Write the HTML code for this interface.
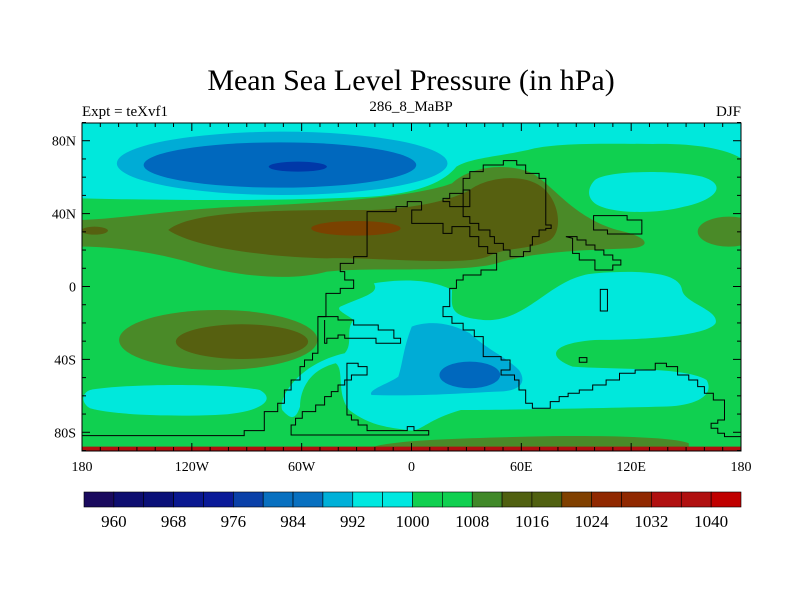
<!DOCTYPE html>
<html><head><meta charset="utf-8"><style>
html,body{margin:0;padding:0;background:#fff;}
svg{display:block;font-family:"Liberation Serif",serif;}
</style></head><body>
<svg width="800" height="600" viewBox="0 0 800 600">
<defs><clipPath id="fr"><rect x="82" y="123" width="659" height="328"/></clipPath></defs>
<text x="411" y="90" font-size="30" text-anchor="middle">Mean Sea Level Pressure (in hPa)</text>
<text x="82" y="116" font-size="15">Expt = teXvf1</text>
<text x="411" y="111" font-size="15" text-anchor="middle">286_8_MaBP</text>
<text x="741" y="116" font-size="15" text-anchor="end">DJF</text>
<g clip-path="url(#fr)">
<g transform="matrix(0.4468,0,0,0.3333,58.77,90)">
<rect x="52" y="97" width="1475" height="985" fill="#10d050"/>
<path fill="#00e8dc" d="M52,97 H1527 V205 C1490,175 1420,160 1330,162 C1200,160 1100,160 1050,180 C980,200 920,205 890,230 C860,280 800,310 700,320 C500,335 200,330 52,325 Z"/>
<path fill="#00e8dc" d="M1200,270 C1230,240 1380,240 1440,260 C1500,285 1470,330 1400,350 C1330,375 1230,370 1200,340 C1180,320 1185,290 1200,270 Z"/>
<ellipse cx="500" cy="220" rx="370" ry="95" fill="#00acd6"/>
<ellipse cx="495" cy="225" rx="305" ry="68" fill="#0068be"/>
<ellipse cx="535" cy="230" rx="65" ry="15" fill="#0038a8"/>
<path fill="#4a8a28" d="M52,390 C150,385 250,360 400,350 C600,340 800,320 880,280 C920,230 1000,215 1060,250 C1110,290 1150,380 1250,420 C1320,440 1330,470 1280,475 C1150,480 1050,490 980,520 C900,550 700,530 600,545 C520,575 400,560 300,520 C200,480 100,470 52,470 Z"/>
<ellipse cx="1500" cy="425" rx="70" ry="45" fill="#4a8a28"/>
<path fill="#566010" d="M245,420 C300,360 500,360 700,360 C800,355 880,330 920,300 C960,260 1040,250 1080,290 C1120,330 1130,420 1100,450 C1060,480 1000,470 960,500 C900,530 700,500 600,505 C450,500 300,470 245,420 Z"/>
<ellipse cx="80" cy="422" rx="30" ry="12" fill="#566010"/>
<ellipse cx="665" cy="415" rx="100" ry="22" fill="#7a4200"/>
<ellipse cx="357" cy="750" rx="222" ry="90" fill="#4a8a28"/>
<ellipse cx="410" cy="755" rx="148" ry="52" fill="#566010"/>
<path fill="#00e8dc" d="M705,580 C800,560 850,580 880,600 C880,650 870,680 950,690 C1050,700 1100,560 1200,550 C1300,540 1390,545 1395,600 C1400,640 1480,660 1470,700 C1450,740 1300,750 1200,750 C1100,760 1090,800 1150,830 C1250,840 1400,830 1450,870 C1470,920 1420,950 1350,950 C1200,955 1000,960 900,960 C820,990 810,1030 780,1020 C720,1010 690,1000 650,960 C620,910 640,840 620,820 C560,840 540,900 540,950 C530,990 520,990 500,960 C490,920 540,820 640,790 C660,760 640,720 660,690 C640,670 620,660 630,650 C680,620 720,610 705,580 Z"/>
<path fill="#00e8dc" d="M70,900 C150,880 380,880 450,900 C490,930 450,970 350,975 C250,980 120,975 70,955 C50,940 50,910 70,900 Z"/>
<path fill="#00acd6" d="M790,710 C830,690 880,700 920,730 C960,780 1000,800 1030,840 C1050,880 1030,905 980,905 C900,910 800,920 700,915 C690,900 740,880 760,860 C770,820 770,780 790,710 Z"/>
<ellipse cx="920" cy="855" rx="68" ry="40" fill="#0068be"/>
<path fill="#4a8a28" d="M700,1072 C750,1050 900,1045 1050,1040 C1200,1035 1380,1040 1410,1060 L1410,1072 Z"/>
<rect x="52" y="1070" width="1475" height="12" fill="#b01010"/>
<g fill="none" stroke="#000" stroke-width="1" vector-effect="non-scaling-stroke">
<path vector-effect="non-scaling-stroke" d="M812,335 H780 V350 H755 V365 H690 V500 H660 V520 H630 V545 H640 V570 H660 V595 H630 V610 H598 V680 H580 V790 H568 V810 H550 V830 H540 V870 H520 V900 H505 V940 H490 V965 H460 V1022 H415 V1037 H52"/>
<path vector-effect="non-scaling-stroke" d="M812,335 V360 H790 V400 H860 V430 H880 V410 H920 V440 H940 V470 H960 V490 H980 V540 H945 V555 H905 V570 H890 V595 H875 V650 H860 V680 H880 V700 H905 V720 H930 V740 H950 V800 H990 V810 H1010 V840 H990 V855 H1020 V870 H1030 V900 H1045 V940 H1060 V955 H1100 V935 H1120 V920 H1140 V910 H1165 V900 H1195 V885 H1225 V870 H1255 V850 H1290 V840 H1335 V820 H1360 V830 H1385 V855 H1410 V870 H1430 V890 H1445 V910 H1465 V930 H1490 V990 H1475 V1000 H1460 V1015 H1475 V1030 H1490 V1040 H1527"/>
<path vector-effect="non-scaling-stroke" d="M905,350 V265 H920 V245 H950 V225 H995 V212 H1025 V225 H1045 V250 H1075 V265 H1090 V405 H1102 V415 H1090 V420 H1075 V440 H1060 V465 H1055 V485 H1040 V500 H1010 V480 H995 V460 H975 V440 H965 V420 H940 V400 H920 V380 H905 Z"/>
<path vector-effect="non-scaling-stroke" d="M860,325 H875 V310 H905 V300 H920 V350 H875 V335 H860 Z"/>
<path vector-effect="non-scaling-stroke" d="M580,680 H625 V690 H660 V705 H715 V720 H750 V745 H765 V760 H710 V745 H640 V735 H625 V745 H600 V760 H595 V690"/>
<path vector-effect="non-scaling-stroke" d="M520,1035 H828 V1022 H795 V1010 H780 V1022 H690 V1005 H670 V990 H655 V975 H645 V820 H670 V830 H690 V855 H655 V870 H640 V885 H625 V905 H610 V920 H595 V945 H575 V965 H545 V985 H530 V1005 H520 Z"/>
<path vector-effect="non-scaling-stroke" d="M1135,440 H1160 V450 H1180 V465 H1200 V480 H1220 V495 H1240 V510 H1258 V525 H1240 V540 H1200 V510 H1165 V490 H1150 V445 Z"/>
<path vector-effect="non-scaling-stroke" d="M1197,377 H1272 V390 H1305 V432 H1228 V420 H1197 Z"/>
<rect vector-effect="non-scaling-stroke" x="1212" y="598" width="16" height="65"/>
<rect vector-effect="non-scaling-stroke" x="1165" y="803" width="17" height="14"/>
</g>
</g>
</g>
<rect x="82" y="123" width="659" height="328" fill="none" stroke="#000" stroke-width="1"/>
<g id="ticks" stroke="#000" stroke-width="1"></g>
<g id="labels" font-size="14"></g>
<g id="cbar"></g>
<script>
const lonTicks=[-180,-120,-60,0,60,120,180];
const lonLabels=["180","120W","60W","0","60E","120E","180"];
const latTicks=[80,40,0,-40,-80];
const latLabels=["80N","40N","0","40S","80S"];
const cbLevels=[960,968,976,984,992,1000,1008,1016,1024,1032,1040];
const cbColors=["#1a0a5e","#0e0e70","#0a1078","#0a1890","#0a1a98","#0a40a8","#0870c0","#0870c0","#00b0d8","#00e8e0","#00e8e0","#10d050","#10d050","#408828","#506010","#506010","#804000","#902800","#902800","#b01010","#b01010","#c00000"];
const cbMin=956, cbStep=4;
const NS="http://www.w3.org/2000/svg";
const X=l=>82+(l+180)/360*659;
const Y=t=>286.5-t*(328/180);
const tk=document.getElementById('ticks'), lb=document.getElementById('labels'), cb=document.getElementById('cbar');
function line(x1,y1,x2,y2){const l=document.createElementNS(NS,'line');l.setAttribute('x1',x1);l.setAttribute('y1',y1);l.setAttribute('x2',x2);l.setAttribute('y2',y2);


tk.appendChild(l);}
for(let l=-180;l<=180;l+=10){const x=X(l),L=(l%60===0)?8:4;line(x,123,x,123+L);line(x,451,x,451-L);}
for(let t=-90;t<=90;t+=10){const y=Y(t),L=(t%40===0)?8:4;line(82,y,82+L,y);line(741,y,741-L,y);}
lonTicks.forEach((v,i)=>{const t=document.createElementNS(NS,'text');t.setAttribute('x',X(v));t.setAttribute('y',471);t.setAttribute('text-anchor','middle');t.textContent=lonLabels[i];


lb.appendChild(t);});
latTicks.forEach((v,i)=>{const t=document.createElementNS(NS,'text');t.setAttribute('x',76);t.setAttribute('y',Y(v)+5);t.setAttribute('text-anchor','end');t.textContent=latLabels[i];


lb.appendChild(t);});
const cbX0=84,cbX1=741,bw=(cbX1-cbX0)/cbColors.length;
const cbV=v=>cbX0+(v-cbMin)/cbStep*bw;
cbColors.forEach((c,i)=>{const r=document.createElementNS(NS,'rect');r.setAttribute('x',cbV(cbMin+i*cbStep));r.setAttribute('y',492);r.setAttribute('width',bw);r.setAttribute('height',15);r.setAttribute('fill',c);r.setAttribute('stroke','#000');r.setAttribute('stroke-width','0.6');


cb.appendChild(r);});
cbLevels.forEach(v=>{const t=document.createElementNS(NS,'text');t.setAttribute('x',cbV(v));t.setAttribute('y',527);t.setAttribute('font-size','17');t.setAttribute('text-anchor','middle');t.textContent=v;


cb.appendChild(t);});
</script>
</svg>
</body></html>
